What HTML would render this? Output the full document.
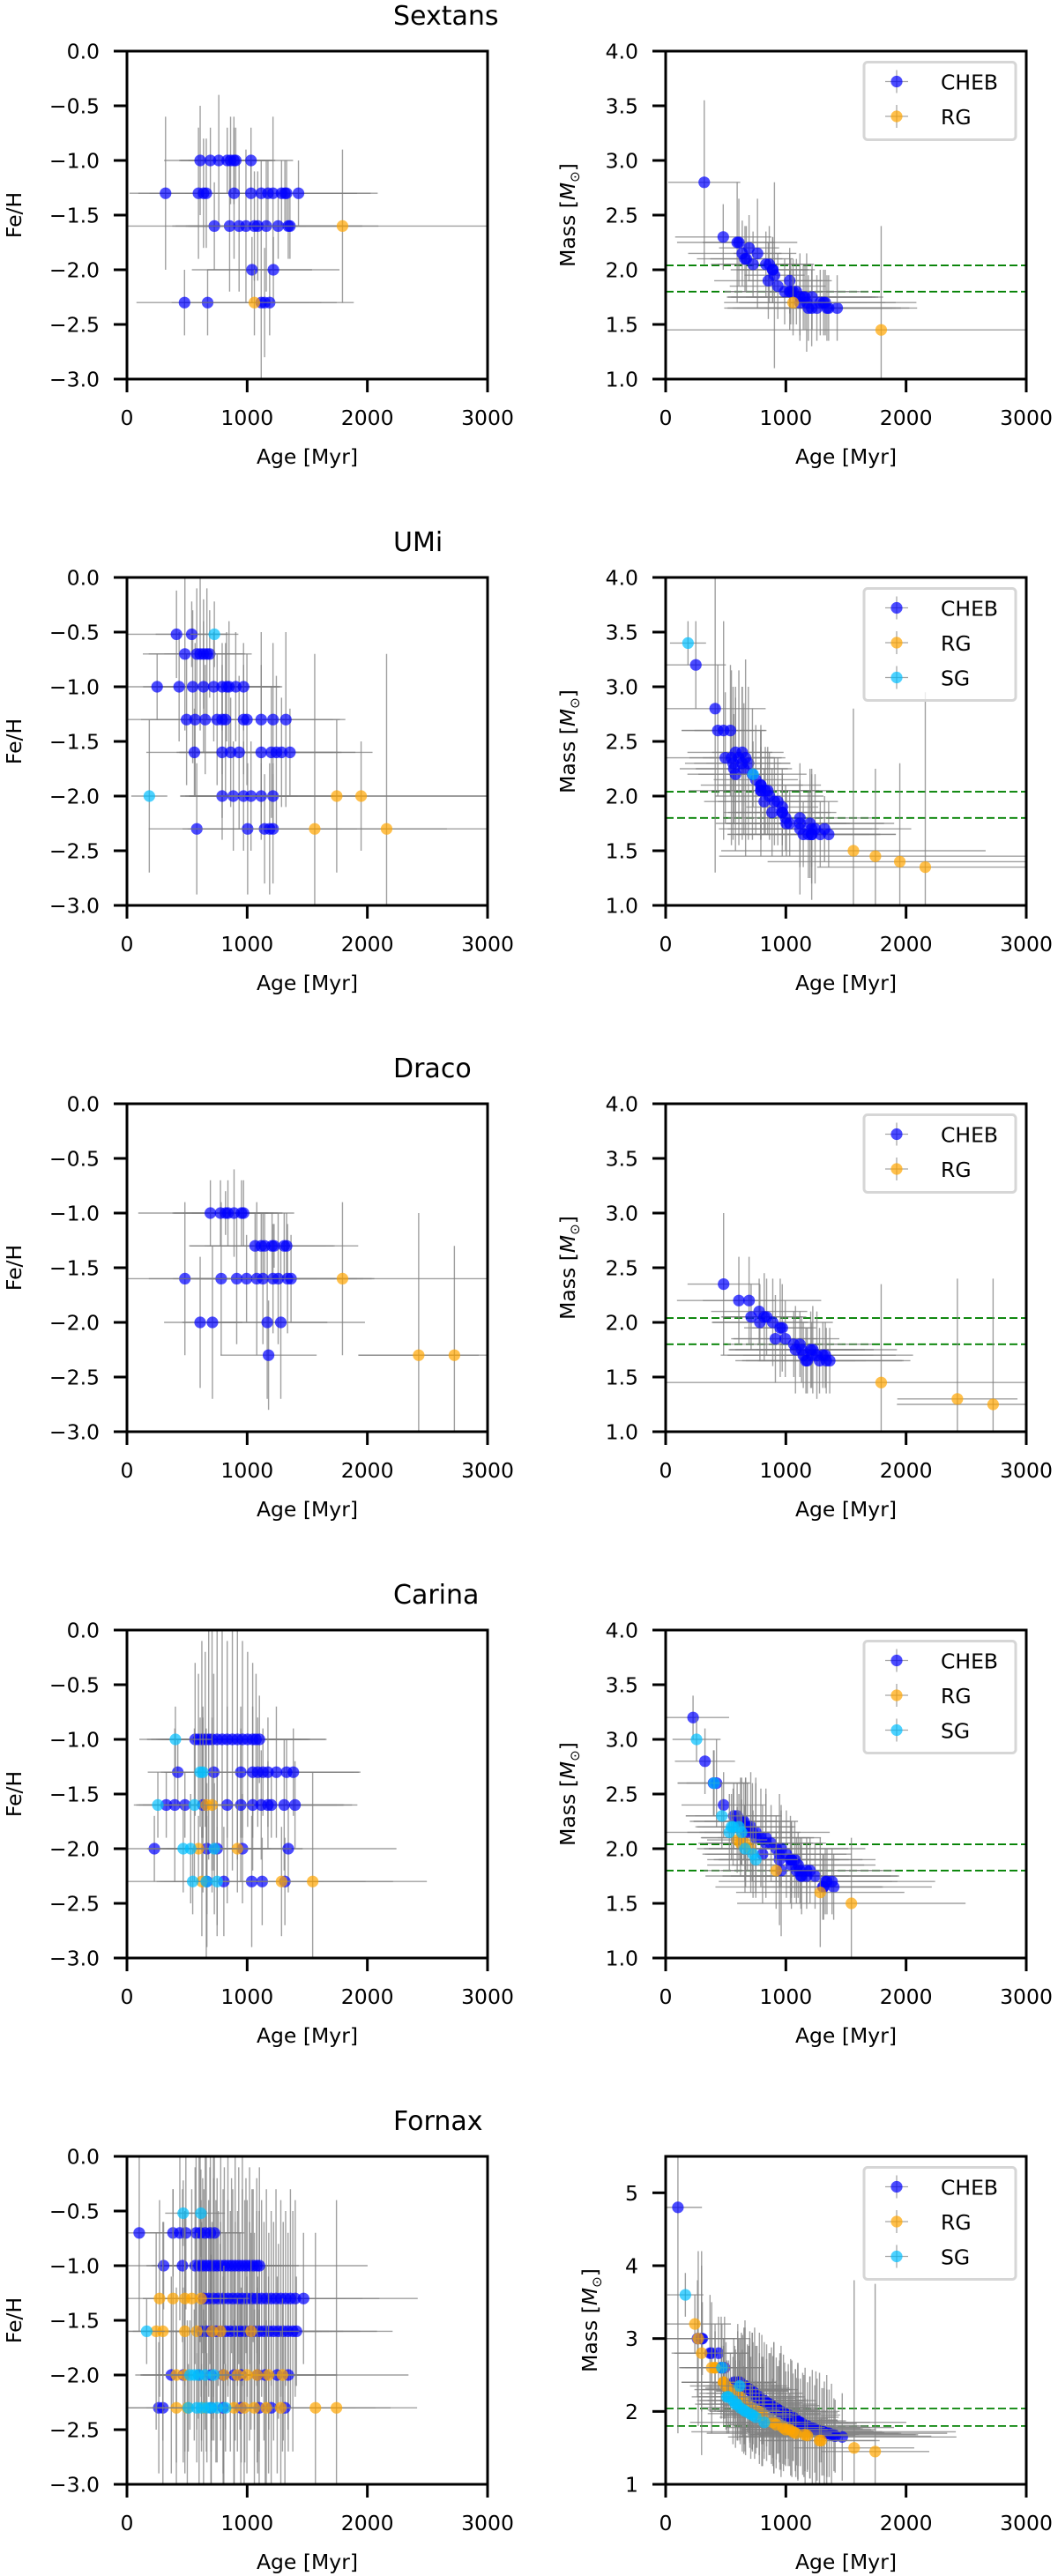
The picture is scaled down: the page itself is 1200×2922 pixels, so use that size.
<!DOCTYPE html>
<html><head><meta charset="utf-8"><title>Age vs Fe/H and Mass</title>
<style>html,body{margin:0;padding:0;background:#fff}svg{display:block}text{font-family:"DejaVu Sans","Liberation Sans",sans-serif;fill:#000}</style>
</head><body>
<svg id="fig" xmlns="http://www.w3.org/2000/svg" width="1200" height="2922" viewBox="0 0 1200 2922"></svg>
<script>
// ---------- DATA ----------
const galaxies = ["Sextans","UMi","Draco","Carina","Fornax"];
const legendSets = [["CHEB","RG"],["CHEB","RG","SG"],["CHEB","RG"],["CHEB","RG","SG"],["CHEB","RG","SG"]];
const fehTicks = [0,-0.5,-1,-1.5,-2,-2.5,-3];
const fehTickLabels = ["0.0","−0.5","−1.0","−1.5","−2.0","−2.5","−3.0"];
const massTicks = [1,1.5,2,2.5,3,3.5,4];
const massTickLabels = ["1.0","1.5","2.0","2.5","3.0","3.5","4.0"];
const fnxMassTicks = [1,2,3,4,5];
const fnxMassTickLabels = ["1","2","3","4","5"];
const ageTicks = [0,1000,2000,3000];
const ageTickLabels = ["0","1000","2000","3000"];
const massLimits = [2.04,1.8];

// Sextans
const sexType = "CCCCCCCCCCCCCCCCCCCCCCCCCCCCCCCRCCCCCCCR".split("");
const sexAge = [609,694,764,834,862,890,905,1032, 321,595,637,660,891,1032,1117,1173,1215,1286,1314,1328,1427, 727,854,933,990,1060,1088,1159,1258,1342,1356,1793, 1040,1218, 479,671,1117,1145,1187,1060];
const sexFeh = [-1,-1,-1,-1,-1,-1,-1,-1, -1.3,-1.3,-1.3,-1.3,-1.3,-1.3,-1.3,-1.3,-1.3,-1.3,-1.3,-1.3,-1.3, -1.6,-1.6,-1.6,-1.6,-1.6,-1.6,-1.6,-1.6,-1.6,-1.6,-1.6, -2,-2, -2.3,-2.3,-2.3,-2.3,-2.3,-2.3];
const sexMass = [2.25,2.2,2.15,2.05,2.05,2.0,1.95,1.9, 2.8,2.25,2.15,2.1,2.0,1.8,1.75,1.7,1.65,1.7,1.7,1.7,1.65, 2.05,1.9,1.85,1.8,1.8,1.8,1.75,1.65,1.65,1.65,1.45, 1.8,1.75, 2.3,2.1,1.7,1.75,1.65,1.7];
const sexAgeErr = [300,250,200,400,350,300,250,350, 300,500,450,400,350,400,600,500,700,800,600,500,600, 350,450,400,500,550,600,650,700,750,600,1800, 500,550, 400,300,500,600,700,450];
const sexFehErr = [0.5,0.3,0.6,0.3,0.4,0.4,0.3,0.3, 0.7,0.6,0.5,0.5,0.6,0.3,0.3,0.3,0.7,0.3,0.3,0.3,0.3, 0.4,0.6,0.6,0.7,0.5,0.5,0.6,0.3,0.3,0.3,0.7, 0.3,0.3, 0.3,0.3,0.7,0.5,0.3,0.3];
const sexMassErr = [0.4,0.3,0.5,0.3,0.35,0.3,0.85,0.3, 0.75,0.55,0.3,0.3,0.3,0.35,0.4,0.45,0.35,0.3,0.3,0.3,0.3, 0.3,0.35,0.3,0.3,0.3,0.3,0.3,0.3,0.3,0.3,0.95, 0.3,0.3, 0.3,0.3,0.3,0.3,0.3,0.3];

// UMi
const umiType = ("CCS"+"CCCCCC"+"CCCCCCCCCC"+"CCCCCCCCCCC"+"CCCCCCCCC"+"SCCCCCCRR"+"CCCCCRR").split("");
const umiAge = [412,539,727, 482,581,609,637,665,688, 251,434,547,637,722,792,829,849,905,970, 496,567,651,750,792,820,970,998,1117,1215,1322, 561,792,863,933,1117,1201,1243,1286,1356, 186,792,885,970,1032,1117,1215,1745,1948, 581,1004,1145,1187,1215,1562,2160];
const umiFeh = [-0.52,-0.52,-0.52, -0.7,-0.7,-0.7,-0.7,-0.7,-0.7, -1,-1,-1,-1,-1,-1,-1,-1,-1,-1, -1.3,-1.3,-1.3,-1.3,-1.3,-1.3,-1.3,-1.3,-1.3,-1.3,-1.3, -1.6,-1.6,-1.6,-1.6,-1.6,-1.6,-1.6,-1.6,-1.6, -2,-2,-2,-2,-2,-2,-2,-2,-2, -2.3,-2.3,-2.3,-2.3,-2.3,-2.3,-2.3];
const umiMass = [2.8,2.6,2.2, 2.6,2.4,2.35,2.4,2.35,2.3, 3.2,2.6,2.35,2.3,2.2,2.1,2.05,2.05,1.95,1.9, 2.35,2.25,2.25,2.15,2.05,1.95,1.85,1.8,1.75,1.7,1.7, 2.3,2.1,2.0,1.95,1.8,1.75,1.7,1.65,1.65, 3.4,2.05,1.85,1.85,1.75,1.7,1.65,1.45,1.4, 2.2,1.75,1.65,1.65,1.65,1.5,1.35];
const umiAgeErr = [420,300,200, 350,400,300,250,300,350, 250,300,350,400,450,500,450,400,350,300, 500,450,400,350,600,500,400,350,700,500,450, 400,350,450,500,600,700,800,500,400, 150,350,400,450,500,600,700,1300,1100, 400,500,550,600,700,1100,900];
const umiFehErr = [0.4,0.3,0.3, 0.7,0.6,0.7,0.5,0.6,0.4, 0.3,0.5,0.7,0.6,0.5,0.4,0.5,0.6,0.5,0.4, 0.6,0.7,0.5,0.6,0.5,0.7,0.5,0.6,0.8,0.7,0.8, 0.4,0.6,0.5,0.7,0.8,0.6,0.7,0.5,0.4, 0.7,0.4,0.5,0.5,0.5,0.3,0.3,0.7,0.5, 0.6,0.6,0.5,0.6,0.5,1.6,1.6];
const umiMassErr = [1.5,0.6,0.3, 1.0,0.6,0.8,0.6,0.9,0.7, 0.4,0.6,0.8,0.7,0.6,0.5,0.4,0.4,0.4,0.3, 0.6,0.5,0.6,0.5,0.4,0.3,0.3,0.3,0.4,0.5,0.3, 0.7,0.5,0.4,0.4,0.3,0.5,0.5,0.3,0.3, 0.2,0.6,0.4,0.4,0.3,0.6,0.6,0.8,0.9, 0.7,0.3,0.3,0.4,0.3,1.3,1.6];

// Draco
const draType = ("CCCCCCC"+"CCCCCCC"+"CCCCCCCCCCR"+"CCCC"+"CRR").split("");
const draAge = [694,778,820,840,891,953,970, 1066,1117,1145,1207,1224,1308,1328, 482,784,913,995,1080,1131,1215,1258,1336,1365,1793, 609,711,1167,1280, 1178,2427,2724];
const draFeh = [-1,-1,-1,-1,-1,-1,-1, -1.3,-1.3,-1.3,-1.3,-1.3,-1.3,-1.3, -1.6,-1.6,-1.6,-1.6,-1.6,-1.6,-1.6,-1.6,-1.6,-1.6,-1.6, -2,-2,-2,-2, -2.3,-2.3,-2.3];
const draMass = [2.2,2.1,2.05,2.05,2.0,1.95,1.95, 1.8,1.8,1.7,1.75,1.75,1.7,1.7, 2.35,2.0,1.85,1.85,1.75,1.75,1.7,1.7,1.65,1.65,1.45, 2.2,2.05,1.65,1.65, 1.65,1.3,1.25];
const draAgeErr = [600,400,350,300,500,300,250, 400,600,500,450,700,300,400, 300,400,350,450,500,600,700,800,700,600,1800, 300,250,500,700, 400,500,800];
const draFehErr = [0.3,0.3,0.2,0.3,0.4,0.3,0.3, 0.3,0.3,0.3,0.3,0.2,0.3,0.3, 0.7,0.7,0.6,0.4,0.7,0.6,0.5,0.6,0.5,0.4,0.7, 0.6,0.7,0.7,0.7, 0.5,1.3,1.0];
const draMassErr = [0.4,0.3,0.4,0.35,0.4,0.45,0.4, 0.3,0.3,0.3,0.35,0.4,0.3,0.3, 0.65,0.35,0.4,0.35,0.4,0.3,0.3,0.4,0.3,0.3,0.9, 0.4,0.3,0.3,0.3, 0.3,1.1,1.15];

// Carina
const carType = ("SCCCCCCCCCCCCCCCC"+"CCCCCCCCCCSS"+"SSCCCCCCCCCCCCRR"+"CCCCCSSSRR"+"SSSCCCCCRRR").split("");
const carAge = [403,567,595,623,651,680,708,750,792,834,877,919,961,1004,1046,1074,1102, 423,722,947,1046,1088,1131,1173,1243,1328,1384,609,632, 257,561,327,398,482,632,834,947,1046,1117,1173,1201,1308,1398,660,708, 228,665,750,961,1342,468,530,727,595,919, 547,750,660,665,806,1038,1125,1314,623,1286,1545];
const carFeh = [-1,-1,-1,-1,-1,-1,-1,-1,-1,-1,-1,-1,-1,-1,-1,-1,-1, -1.3,-1.3,-1.3,-1.3,-1.3,-1.3,-1.3,-1.3,-1.3,-1.3,-1.3,-1.3, -1.6,-1.6,-1.6,-1.6,-1.6,-1.6,-1.6,-1.6,-1.6,-1.6,-1.6,-1.6,-1.6,-1.6,-1.6,-1.6, -2,-2,-2,-2,-2,-2,-2,-2,-2,-2, -2.3,-2.3,-2.3,-2.3,-2.3,-2.3,-2.3,-2.3,-2.3,-2.3,-2.3];
const carMass = [2.6,2.3,2.3,2.25,2.25,2.2,2.2,2.15,2.1,2.1,2.05,2.0,2.0,1.95,1.9,1.9,1.85, 2.6,2.15,1.9,1.85,1.8,1.75,1.8,1.75,1.7,1.7,2.2,2.15, 3.0,2.2,2.8,2.6,2.4,2.25,2.05,1.95,1.9,1.8,1.75,1.8,1.65,1.65,2.05,2.0, 3.2,2.2,2.1,1.8,1.7,2.3,2.15,1.95,2.08,1.8, 2.2,1.9,2.0,2.15,1.95,1.9,1.75,1.65,2.05,1.6,1.5];
const carAgeErr = [300,400,350,300,450,400,350,300,500,400,350,600,700,500,400,450,550, 250,400,500,700,600,800,500,700,600,500,300,350, 200,300,250,300,350,400,500,600,700,800,700,600,500,400,300,350, 300,400,450,500,900,300,350,400,250,450, 300,350,300,700,500,600,400,900,350,700,950];
const carFehErr = [0.3,0.7,0.6,0.9,0.8,1.1,1.2,1.3,1.0,0.9,1.2,1.1,0.9,0.8,0.7,0.6,0.4, 0.3,0.9,0.6,0.6,0.5,0.4,0.5,0.6,0.3,0.4,0.5,0.6, 0.3,0.7,0.3,0.7,0.3,0.8,0.9,0.7,0.6,0.5,0.4,0.3,0.6,0.4,0.7,0.8, 0.3,0.6,0.7,0.5,0.4,0.4,0.5,0.6,0.3,0.4, 0.3,0.5,0.7,0.6,0.5,0.6,0.4,0.4,0.5,0.5,1.0];
const carMassErr = [0.3,0.3,0.3,0.4,0.35,0.4,0.5,0.5,0.45,0.4,0.35,0.3,0.35,0.4,0.3,0.35,0.3, 0.4,0.45,0.6,0.4,0.3,0.35,0.3,0.3,0.3,0.3,0.3,0.3, 0.2,0.35,0.3,0.3,0.3,0.4,0.5,0.3,0.35,0.3,0.3,0.3,0.3,0.3,0.35,0.4, 0.2,0.45,0.5,0.6,0.3,0.3,0.35,0.4,0.3,0.35, 0.3,0.35,0.4,0.5,0.45,0.4,0.3,0.3,0.3,0.5,0.6];

// Fornax
const fnxType = ("SS"+"CCCCCCCCC"+"CCCCCCCCCCCCCCCCCCCCC"+"RRRRR"+"CCCCCCCCCCCCCCCCCCCCC"+"S"+"RRRRRRR"+"CCCCCCCCCCCCCCCCCCCCC"+"CCCCCCCCCCC"+"RRRRRRRR"+"SSSSS"+"CCCCCCCC"+"RRRRRRRRRR"+"SSSSSSS").split("");
const fnxAge = [468,615, 102,383,440,490,575,609,651,694,727,
 305,462,567,600,630,660,690,720,750,780,810,840,870,900,930,960,990,1020,1050,1080,1102,
 271,383,482,539,617,
 640,680,720,760,800,840,880,920,960,1000,1040,1080,1120,1160,1200,1240,1280,1320,1360,1400,1469,
 164,
 243,299,482,581,708,778,1032,
 620,660,700,740,780,820,860,900,940,980,1020,1060,1100,1140,1180,1220,1260,1300,1340,1380,1410,
 369,468,600,700,800,891,950,1088,1150,1250,1342,
 411,482,806,919,998,1083,1178,1294,
 524,560,595,650,722,
 265,299,700,800,947,1100,1200,1314,
 411,502,637,891,975,1060,1159,1280,1568,1743,
 510,581,620,665,700,750,820];
const fnxFeh = [-0.52,-0.52, -0.7,-0.7,-0.7,-0.7,-0.7,-0.7,-0.7,-0.7,-0.7,
 -1,-1,-1,-1,-1,-1,-1,-1,-1,-1,-1,-1,-1,-1,-1,-1,-1,-1,-1,-1,-1,
 -1.3,-1.3,-1.3,-1.3,-1.3,
 -1.3,-1.3,-1.3,-1.3,-1.3,-1.3,-1.3,-1.3,-1.3,-1.3,-1.3,-1.3,-1.3,-1.3,-1.3,-1.3,-1.3,-1.3,-1.3,-1.3,-1.3,
 -1.6,
 -1.6,-1.6,-1.6,-1.6,-1.6,-1.6,-1.6,
 -1.6,-1.6,-1.6,-1.6,-1.6,-1.6,-1.6,-1.6,-1.6,-1.6,-1.6,-1.6,-1.6,-1.6,-1.6,-1.6,-1.6,-1.6,-1.6,-1.6,-1.6,
 -2,-2,-2,-2,-2,-2,-2,-2,-2,-2,-2,
 -2,-2,-2,-2,-2,-2,-2,-2,
 -2,-2,-2,-2,-2,
 -2.3,-2.3,-2.3,-2.3,-2.3,-2.3,-2.3,-2.3,
 -2.3,-2.3,-2.3,-2.3,-2.3,-2.3,-2.3,-2.3,-2.3,-2.3,
 -2.3,-2.3,-2.3,-2.3,-2.3,-2.3,-2.3];
const fnxMass = [2.6,2.35, 4.8,2.8,2.8,2.6,2.4,2.4,2.35,2.3,2.25,
 3.0,2.6,2.4,2.4,2.38,2.35,2.3,2.28,2.2,2.18,2.15,2.12,2.1,2.05,2.02,2.0,1.97,1.95,1.9,1.88,1.85,
 3.0,2.6,2.4,2.3,2.2,
 2.35,2.32,2.28,2.2,2.15,2.12,2.08,2.04,2.0,1.95,1.92,1.88,1.85,1.8,1.78,1.76,1.73,1.71,1.7,1.68,1.65,
 3.6,
 3.2,2.8,2.4,2.25,2.05,2.0,1.75,
 2.4,2.35,2.3,2.25,2.2,2.15,2.1,2.05,2.02,1.98,1.95,1.92,1.87,1.83,1.8,1.77,1.75,1.72,1.7,1.68,1.66,
 2.8,2.6,2.4,2.3,2.15,2.06,2.0,1.86,1.8,1.75,1.7,
 2.6,2.4,1.95,1.82,1.75,1.7,1.67,1.6,
 2.2,2.15,2.1,2.02,1.95,
 3.0,3.0,2.3,2.15,2.0,1.85,1.78,1.72,
 2.6,2.35,2.15,1.85,1.78,1.72,1.68,1.6,1.5,1.45,
 2.2,2.1,2.05,2.0,1.97,1.92,1.85];
const fnxAgeErr = [150,200, 200,300,250,300,250,250,300,250,250,
 400,300,350,300,250,300,350,300,250,300,350,300,250,300,350,300,300,250,300,350,900,
 300,250,350,300,400,
 300,350,300,400,350,300,400,350,300,450,400,350,400,450,500,400,450,500,600,700,950,
 150,
 300,250,350,300,400,350,400,
 300,350,300,400,350,300,400,350,300,450,400,350,400,450,500,400,450,500,600,700,800,
 300,350,300,400,350,300,400,350,400,500,1000,
 300,350,300,400,350,300,400,450,
 250,300,350,300,250,
 250,300,350,450,500,600,700,1100,
 250,300,350,400,350,400,450,500,500,450,
 250,300,250,300,350,300,300];
const fnxFehErr = [0.3,0.4, 0.9,0.4,0.8,0.7,0.9,1.0,1.1,0.8,0.9,
 0.4,0.7,0.9,1.0,0.8,1.1,0.9,1.2,0.8,1.0,0.9,1.1,0.8,1.0,0.9,1.1,0.8,0.9,0.7,0.8,0.9,
 0.9,1.0,0.8,1.0,0.9,
 1.0,0.9,1.1,0.8,1.0,0.9,1.0,0.8,1.0,0.9,1.0,0.8,0.9,1.0,0.8,1.0,0.9,0.8,1.0,0.9,0.6,
 0.3,
 0.9,1.0,1.1,0.9,1.0,0.8,0.9,
 1.0,1.1,0.9,1.2,1.0,0.9,1.1,1.0,0.9,1.2,1.0,0.9,1.1,1.0,0.9,1.0,0.8,1.0,0.9,1.1,0.5,
 0.9,0.8,1.0,1.1,0.9,1.0,0.8,0.9,1.0,0.9,0.7,
 0.8,0.9,1.0,0.7,0.9,0.8,0.9,0.7,
 0.5,0.6,0.4,0.5,0.6,
 0.6,0.7,0.9,0.8,1.0,0.9,0.8,0.7,
 0.7,0.8,0.9,0.8,1.0,0.9,0.8,0.7,1.6,1.9,
 0.4,0.5,0.4,0.5,0.4,0.5,0.4];
const fnxMassErr = [0.3,0.35, 3.1,0.4,0.5,0.7,0.5,0.6,0.8,0.6,0.7,
 0.5,0.7,0.6,0.8,0.7,0.9,0.6,0.8,0.7,0.9,0.6,0.8,0.7,0.9,0.6,0.8,0.7,0.6,0.8,0.7,0.6,
 1.2,0.9,0.6,0.5,0.6,
 0.7,0.6,0.8,0.7,0.9,0.6,0.8,0.7,0.9,0.6,0.8,0.7,0.6,0.8,0.7,0.6,0.8,0.7,0.6,0.5,0.6,
 0.3,
 0.4,1.4,0.5,0.6,0.7,0.6,0.5,
 0.6,0.8,0.7,0.9,0.6,0.8,0.7,0.9,0.6,0.8,0.7,0.6,0.8,0.7,0.6,0.8,0.7,0.6,0.8,0.7,0.5,
 0.8,0.6,0.7,0.8,0.6,0.7,0.8,0.6,0.7,0.8,0.6,
 0.6,0.5,0.7,0.6,0.5,0.6,0.5,0.3,
 0.5,0.6,0.5,0.6,0.5,
 0.8,1.0,0.7,0.6,0.7,0.8,0.7,0.6,
 0.5,0.6,0.7,0.6,0.5,0.4,0.5,0.3,2.3,2.3,
 0.5,0.6,0.5,0.6,0.4,0.5,0.4];

const allType = [sexType, umiType, draType, carType, fnxType];
const allAge = [sexAge, umiAge, draAge, carAge, fnxAge];
const allFeh = [sexFeh, umiFeh, draFeh, carFeh, fnxFeh];
const allMass = [sexMass, umiMass, draMass, carMass, fnxMass];
const allAgeErr = [sexAgeErr, umiAgeErr, draAgeErr, carAgeErr, fnxAgeErr];
const allFehErr = [sexFehErr, umiFehErr, draFehErr, carFehErr, fnxFehErr];
const allMassErr = [sexMassErr, umiMassErr, draMassErr, carMassErr, fnxMassErr];

// ---------- LAYOUT ----------
const NS = "http://www.w3.org/2000/svg";
const svg = document.getElementById("fig");
const LX0 = 144, LX1 = 553, RX0 = 755, RX1 = 1164;
const TOP0 = 58, PITCH = 597, PH = 372;
const COLORS = {C:"#0000ff", R:"#ffa500", S:"#00bfff"};
const LABELS = {C:"CHEB", R:"RG", S:"SG"};

function mk(tag, attrs, parent) {
  const e = document.createElementNS(NS, tag);
  for (const k in attrs) e.setAttribute(k, attrs[k]);
  (parent || svg).appendChild(e);
  return e;
}

function drawPanel(gi, side) {
  const top = TOP0 + gi * PITCH, bot = top + PH;
  const x0 = side === "L" ? LX0 : RX0, x1 = side === "L" ? LX1 : RX1;
  const isMass = side === "R";
  const ymin = isMass ? 1 : -3;
  const ymax = isMass ? (gi === 4 ? 5.5 : 4) : 0;
  const xs = a => x0 + (a / 3000) * (x1 - x0);
  const ys = v => bot - (v - ymin) / (ymax - ymin) * PH;
  const pname = galaxies[gi].toLowerCase() + (isMass ? "-mass-panel" : "-feh-panel");

  const g = mk("g", {});
  
  

  const cid = "clip-" + gi + side;
  const cp = mk("clipPath", {id: cid}, g);
  mk("rect", {x: x0, y: top, width: x1 - x0, height: PH}, cp);
  const plot = mk("g", {"clip-path": "url(#" + cid + ")"}, g);
  
  

  if (isMass) {
    massLimits.forEach(m => {
      const l = mk("line", {x1: x0, x2: x1, y1: ys(m), y2: ys(m), stroke: "#008000", "stroke-width": 1.8, "stroke-dasharray": "9,4"}, plot);
      
      
    });
  }

  const types = allType[gi], ages = allAge[gi];
  const vals = isMass ? allMass[gi] : allFeh[gi];
  const aErr = allAgeErr[gi];
  const vErr = isMass ? allMassErr[gi] : allFehErr[gi];
  ["C","R","S"].forEach(t => {
    for (let i = 0; i < ages.length; i++) {
      if (types[i] !== t) continue;
      const ea = aErr[i] || 0, ev = vErr[i] || 0;
      const eh = mk("line", {x1: xs(ages[i] - ea), x2: xs(ages[i] + ea), y1: ys(vals[i]), y2: ys(vals[i]), stroke: "#808080", "stroke-opacity": 0.75, "stroke-width": 1.4}, plot);
      
      
      const evl = mk("line", {x1: xs(ages[i]), x2: xs(ages[i]), y1: ys(vals[i] - ev), y2: ys(vals[i] + ev), stroke: "#808080", "stroke-opacity": 0.75, "stroke-width": 1.4}, plot);
      
      
    }
    for (let i = 0; i < ages.length; i++) {
      if (types[i] !== t) continue;
      const c = mk("circle", {cx: xs(ages[i]), cy: ys(vals[i]), r: 6.6, fill: COLORS[t], "fill-opacity": 0.7}, plot);
      
      
    }
  });

  const fr = mk("rect", {x: x0, y: top, width: x1 - x0, height: PH, fill: "none", stroke: "#000", "stroke-width": 3}, g);
  
  

  ageTicks.forEach((a, k) => {
    mk("line", {x1: xs(a), x2: xs(a), y1: bot, y2: bot + 15, stroke: "#000", "stroke-width": 3}, g);
    const tx = mk("text", {x: xs(a), y: bot + 52, "font-size": 23.5, "text-anchor": "middle"}, g);
    tx.textContent = ageTickLabels[k];
    
    
  });
  let yt = fehTicks, ytl = fehTickLabels;
  if (isMass) { yt = gi === 4 ? fnxMassTicks : massTicks; ytl = gi === 4 ? fnxMassTickLabels : massTickLabels; }
  yt.forEach((v, k) => {
    mk("line", {x1: x0 - 15, x2: x0, y1: ys(v), y2: ys(v), stroke: "#000", "stroke-width": 3}, g);
    const tx = mk("text", {x: x0 - 31, y: ys(v) + 8.5, "font-size": 23.5, "text-anchor": "end"}, g);
    tx.textContent = ytl[k];
    
    
  });

  const xl = mk("text", {x: (x0 + x1) / 2, y: bot + 96, "font-size": 23.5, "text-anchor": "middle"}, g);
  xl.textContent = "Age [Myr]";
  
  

  const cy = top + PH / 2;
  if (!isMass) {
    const yl = mk("text", {x: 0, y: 0, "font-size": 23.5, "text-anchor": "middle", transform: "translate(24," + cy + ") rotate(-90)"}, g);
    yl.textContent = "Fe/H";
    
    
  } else {
    const lx = gi === 4 ? 677 : 652;
    const yl = mk("text", {x: 0, y: 0, "font-size": 23.5, "text-anchor": "middle", transform: "translate(" + lx + "," + cy + ") rotate(-90)"}, g);
    
    
    const t1 = mk("tspan", {}, yl); t1.textContent = "Mass [";
    const t2 = mk("tspan", {"font-style": "italic"}, yl); t2.textContent = "M";
    const t3 = mk("tspan", {"font-size": 15, dy: 5}, yl); t3.textContent = "⊙";
    const t4 = mk("tspan", {dy: -5}, yl); t4.textContent = "]";
  }

  if (isMass) {
    const items = legendSets[gi];
    const lg = mk("g", {}, g);
    
    
    const lt = top + 12.5;
    const lh = 10 + items.length * 39;
    mk("rect", {x: 980, y: lt, width: 172, height: lh, rx: 4, fill: "#fff", "fill-opacity": 0.8, stroke: "#d6d6d6", "stroke-width": 3}, lg);
    items.forEach((name, k) => {
      const t = name === "CHEB" ? "C" : name === "RG" ? "R" : "S";
      const yy = lt + 22 + k * 39.5;
      const en = mk("g", {}, lg);
      
      
      mk("line", {x1: 1004, x2: 1030, y1: yy, y2: yy, stroke: "#808080", "stroke-opacity": 0.7, "stroke-width": 1.3}, en);
      mk("line", {x1: 1017, x2: 1017, y1: yy - 13, y2: yy + 13, stroke: "#808080", "stroke-opacity": 0.7, "stroke-width": 1.3}, en);
      mk("circle", {cx: 1017, cy: yy, r: 6.6, fill: COLORS[t], "fill-opacity": 0.7}, en);
      const tx = mk("text", {x: 1067, y: yy + 9, "font-size": 23.5}, en);
      tx.textContent = name;
    });
  }
}

galaxies.forEach((name, gi) => {
  const top = TOP0 + gi * PITCH;
  const tt = mk("text", {x: 446, y: top - 30, "font-size": 30}, svg);
  tt.textContent = name;
  
  
  drawPanel(gi, "L");
  drawPanel(gi, "R");
});
</script>
</body></html>
